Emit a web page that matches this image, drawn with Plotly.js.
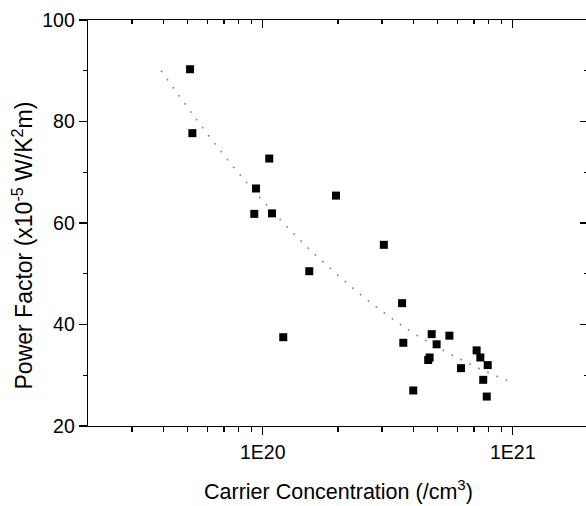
<!DOCTYPE html>
<html>
<head>
<meta charset="utf-8">
<script src="https://cdn.plot.ly/plotly-3.0.1.min.js"></script>
<style>
html,body{margin:0;padding:0;overflow:hidden;background:#fff;}
#chart{width:590px;height:506px;}
</style>
</head>
<body>
<div id="chart"></div>
<script>
// Measured data points (carrier concentration /cm^3, power factor x1e-5 W/K^2m)
const carrierConc = [5.12e19, 5.23e19, 1.062e20, 9.4e19, 1.963e20, 9.25e19, 1.089e20, 3.05e20,
  1.535e20, 3.61e20, 1.208e20, 3.65e20, 4.74e20, 5.58e20, 4.96e20, 4.65e20, 4.59e20,
  7.17e20, 7.42e20, 7.94e20, 6.21e20, 7.62e20, 4.0e20, 7.87e20];
const powerFactor = [90.3, 77.7, 72.7, 66.8, 65.4, 61.8, 61.9, 55.7,
  50.5, 44.2, 37.5, 36.4, 38.1, 37.8, 36.1, 33.5, 33.0,
  34.9, 33.5, 32.0, 31.4, 29.1, 27.0, 25.8];

// Fit curve points
const fitX = [3.92e19, 5.21e19, 7.5e19, 1.0e20, 1.41e20, 2.02e20, 2.91e20, 4.19e20, 6.95e20, 1.0e21];
const fitY = [90.0, 81.6, 71.5, 64.4, 56.65, 49.5, 43.1, 37.7, 31.9, 28.5];

const xMajorVals = [1e20, 1e21];
const xMajorText = ['1E20', '1E21'];
const xMinorVals = [3e19, 4e19, 5e19, 6e19, 7e19, 8e19, 9e19,
  2e20, 3e20, 4e20, 5e20, 6e20, 7e20, 8e20, 9e20, 2e21];

const xRange = [Math.log10(2e19), Math.log10(2e21)];
const yRange = [20, 100];

const FONT = 'Liberation Sans, Arial, sans-serif';

const traces = [
  {
    x: fitX, y: fitY, type: 'scatter', mode: 'lines',
    line: {color: '#808080', width: 1.6, dash: '1.6px,8.4px', shape: 'spline'},
    hoverinfo: 'skip', showlegend: false
  },
  {
    x: carrierConc, y: powerFactor, type: 'scatter', mode: 'markers',
    marker: {symbol: 'square', size: 8, color: '#000'},
    showlegend: false
  },
  {
    x: [], y: [], xaxis: 'x2', yaxis: 'y2', type: 'scatter', mode: 'markers', showlegend: false
  }
];

const tickCommon = {
  showline: true, linecolor: '#000', linewidth: 1.3,
  showgrid: false, zeroline: false, tickcolor: '#000', tickwidth: 1.3
};

const layout = {
  width: 590, height: 506,
  margin: {l: 88, r: 2, t: 20, b: 80},
  paper_bgcolor: '#fff', plot_bgcolor: '#fff',
  font: {family: FONT, color: '#000'},
  showlegend: false,
  xaxis: Object.assign({}, tickCommon, {
    type: 'log', range: xRange,
    tickmode: 'array', tickvals: xMajorVals, ticktext: xMajorText,
    ticks: 'outside', ticklen: 8,
    tickfont: {family: FONT, size: 19.5, color: '#000'},
    minor: {tickmode: 'array', tickvals: xMinorVals, ticks: 'outside', ticklen: 5,
      tickcolor: '#000', tickwidth: 1.3, showgrid: false}
  }),
  xaxis2: Object.assign({}, tickCommon, {
    type: 'log', range: xRange, overlaying: 'x', side: 'top', anchor: 'y',
    tickmode: 'array', tickvals: xMajorVals, ticktext: xMajorText,
    ticks: 'inside', ticklen: 8, showticklabels: false,
    minor: {tickmode: 'array', tickvals: xMinorVals, ticks: 'inside', ticklen: 4,
      tickcolor: '#000', tickwidth: 1.3, showgrid: false}
  }),
  yaxis: Object.assign({}, tickCommon, {
    range: yRange, tickmode: 'linear', tick0: 0, dtick: 20,
    ticks: 'outside', ticklen: 8,
    tickfont: {family: FONT, size: 19.5, color: '#000'},
    minor: {dtick: 10, tick0: 0, ticks: 'outside', ticklen: 4,
      tickcolor: '#000', tickwidth: 1.3, showgrid: false}
  }),
  yaxis2: Object.assign({}, tickCommon, {
    range: yRange, overlaying: 'y', side: 'right', anchor: 'x',
    tickmode: 'linear', tick0: 0, dtick: 20,
    ticks: 'inside', ticklen: 8, showticklabels: false,
    minor: {dtick: 10, tick0: 0, ticks: 'inside', ticklen: 4,
      tickcolor: '#000', tickwidth: 1.3, showgrid: false}
  }),
  annotations: [
    {
      text: 'Carrier Concentration (/cm<sup>3</sup>)',
      xref: 'paper', yref: 'paper', x: 0.501, y: -0.157,
      xanchor: 'center', yanchor: 'middle', showarrow: false,
      font: {family: FONT, size: 21.5, color: '#000'}
    },
    {
      text: 'Power Factor (x10<sup>-5</sup> W/K<sup>2</sup>m)',
      xref: 'paper', yref: 'paper', x: -0.13, y: 0.4446,
      xanchor: 'center', yanchor: 'middle', textangle: -90, showarrow: false,
      font: {family: FONT, size: 23, color: '#000'}
    }
  ]
};

Plotly.newPlot('chart', traces, layout, {displayModeBar: false, staticPlot: true});
</script>
</body>
</html>
